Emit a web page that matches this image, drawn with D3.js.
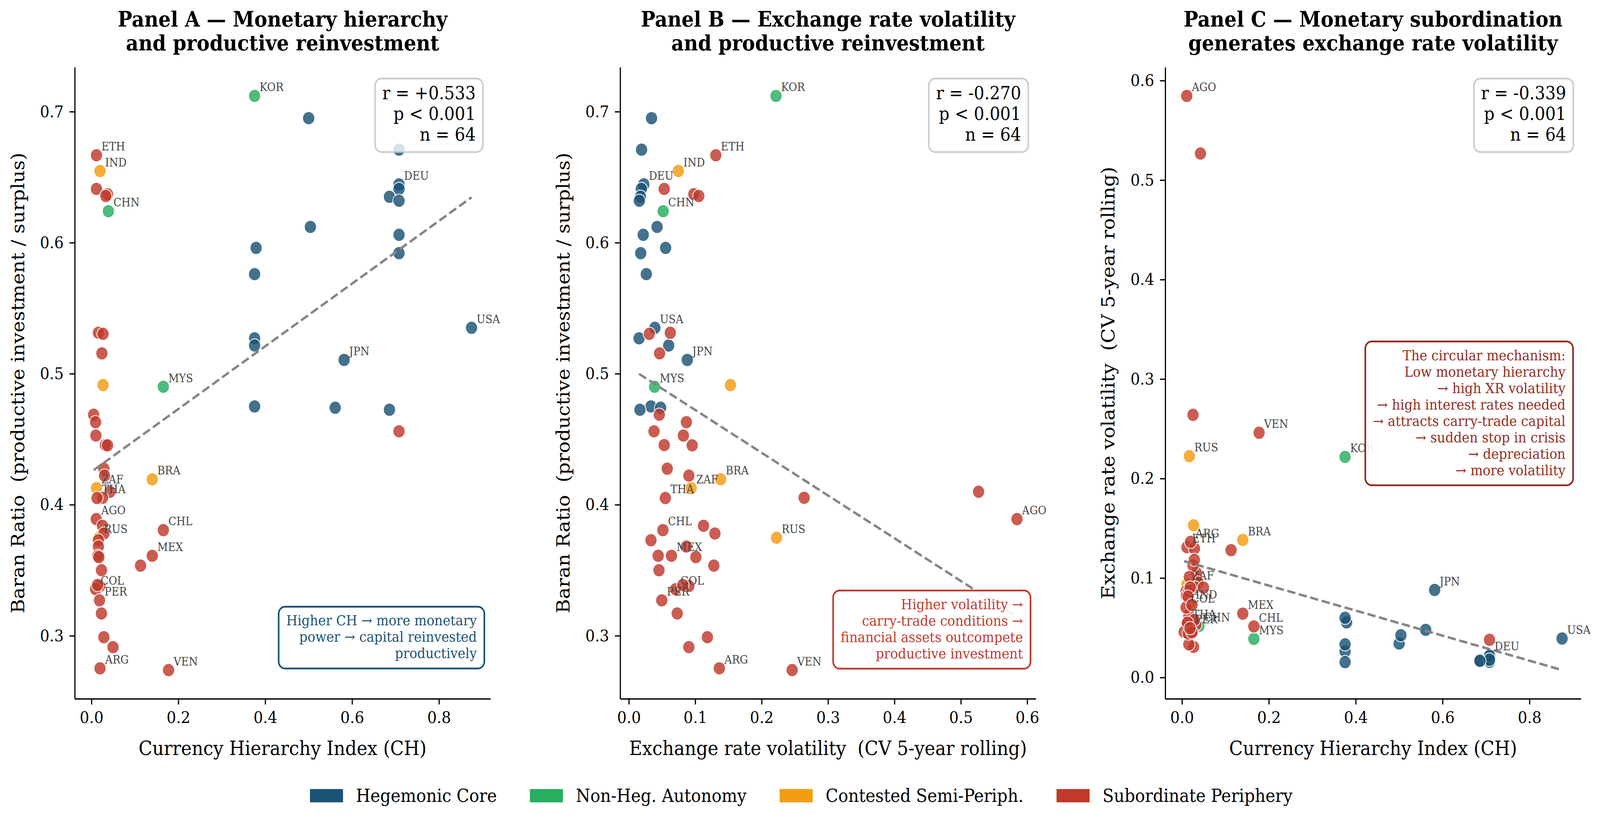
<!DOCTYPE html>
<html><head><meta charset="utf-8">
<script src="https://cdn.jsdelivr.net/npm/d3@7/dist/d3.min.js"></script>
<style>html,body{margin:0;padding:0;background:#fff;overflow:hidden} svg{display:block;width:100vw;height:100vh} text{font-family:"DejaVu Serif",serif}</style>
</head><body><svg id="c" viewBox="0 0 4453 2111" preserveAspectRatio="none"></svg>
<script>
// ---------------- DATA ----------------
const codes = [
 "", "", "DEU", "", "", "", "", "", "", "", "", "", "", "JPN", "USA", "", "", "",
 "KOR", "CHN", "MYS",
 "IND", "", "ZAF", "RUS", "BRA",
 "ETH", "", "", "", "", "", "", "", "", "", "", "", "", "", "", "", "", "THA", "AGO", "", "", "", "", "", "", "", "CHL", "MEX", "", "", "COL", "", "PER", "", "", "", "ARG", "VEN"
];
const groupIdx = [
 0,0,0,0,0,0,0,0,0,0,0,0,0,0,0,0,0,0,
 1,1,1,
 2,2,2,2,2,
 3,3,3,3,3,3,3,3,3,3,3,3,3,3,3,3,3,3,3,3,3,3,3,3,3,3,3,3,3,3,3,3,3,3,3,3,3,3
];
const chIndex = [
 0.500, 0.708, 0.708, 0.708, 0.686, 0.708, 0.504, 0.708, 0.379, 0.708, 0.3755, 0.3755, 0.3755, 0.5816, 0.875, 0.3755, 0.561, 0.686,
 0.3755, 0.039, 0.1655,
 0.0197, 0.0267, 0.0115, 0.017, 0.140,
 0.0115, 0.0115, 0.037, 0.033, 0.016, 0.0267, 0.024, 0.708, 0.005, 0.0095, 0.0102, 0.032, 0.037, 0.0286, 0.030, 0.0426, 0.0255, 0.0127, 0.011, 0.0255, 0.0287, 0.0159, 0.0159, 0.0146, 0.017, 0.023, 0.1655, 0.140, 0.113, 0.019, 0.0095, 0.014, 0.0185, 0.023, 0.0286, 0.0496, 0.0197, 0.1775
];
const baranRatio = [
 0.695, 0.671, 0.6445, 0.641, 0.635, 0.632, 0.612, 0.606, 0.596, 0.592, 0.576, 0.527, 0.5215, 0.5105, 0.535, 0.475, 0.474, 0.4725,
 0.712, 0.624, 0.490,
 0.6547, 0.4913, 0.4127, 0.3748, 0.4194,
 0.6667, 0.641, 0.637, 0.6356, 0.5312, 0.5304, 0.5155, 0.456, 0.4687, 0.463, 0.4528, 0.4455, 0.4453, 0.4275, 0.4222, 0.4099, 0.4053, 0.4051, 0.389, 0.3839, 0.378, 0.3729, 0.3681, 0.361, 0.360, 0.350, 0.3806, 0.361, 0.3535, 0.338, 0.3355, 0.3387, 0.327, 0.317, 0.2989, 0.2913, 0.2751, 0.2738
];
const xrVol = [
 0.0342, 0.0192, 0.0225, 0.0188, 0.0175, 0.0158, 0.0425, 0.0217, 0.0554, 0.0179, 0.0263, 0.0154, 0.060, 0.088, 0.0392, 0.0333, 0.0479, 0.0167,
 0.2217, 0.0517, 0.0388,
 0.0746, 0.153, 0.0938, 0.2225, 0.1383,
 0.131, 0.0533, 0.0979, 0.1054, 0.0625, 0.0308, 0.0463, 0.0379, 0.0458, 0.0867, 0.0821, 0.0533, 0.0954, 0.0579, 0.0904, 0.5267, 0.264, 0.055, 0.5846, 0.1125, 0.1296, 0.0333, 0.0867, 0.0442, 0.101, 0.0454, 0.0513, 0.0642, 0.128, 0.0904, 0.0704, 0.0813, 0.0496, 0.0729, 0.1183, 0.0904, 0.1363, 0.246
];
const groupNames = ["Hegemonic Core", "Non-Heg. Autonomy", "Contested Semi-Periph.", "Subordinate Periphery"];
const groupColors = ["#1a5276", "#27ae60", "#f39c12", "#c0392b"];
const ticksCH = [0, 0.2, 0.4, 0.6, 0.8];
const ticksVol = [0, 0.1, 0.2, 0.3, 0.4, 0.5, 0.6];
const ticksBaran = [0.3, 0.4, 0.5, 0.6, 0.7];
const panelTitles = [
 ["Panel A — Monetary hierarchy", "and productive reinvestment"],
 ["Panel B — Exchange rate volatility", "and productive reinvestment"],
 ["Panel C — Monetary subordination", "generates exchange rate volatility"]
];
const statsLines = [
 ["r = +0.533", "p < 0.001", "n = 64"],
 ["r = -0.270", "p < 0.001", "n = 64"],
 ["r = -0.339", "p < 0.001", "n = 64"]
];
const noteLines = [
 ["Higher CH → more monetary", "power → capital reinvested", "productively"],
 ["Higher volatility →", "carry-trade conditions →", "financial assets outcompete", "productive investment"],
 ["The circular mechanism:", "Low monetary hierarchy", "→ high XR volatility", "→ high interest rates needed", "→ attracts carry-trade capital", "→ sudden stop in crisis", "→ depreciation", "→ more volatility"]
];
const labelCH = "Currency Hierarchy Index (CH)";
const labelVol = "Exchange rate volatility  (CV 5-year rolling)";
const labelBaran = "Baran Ratio  (productive investment / surplus)";

// ---------------- LAYOUT ----------------
const svg = d3.select("#c");
svg.append("rect").attr("width", 4453).attr("height", 2111).attr("fill", "#fff");
const AX_TOP = 172, AX_BOTTOM = 1788, AX_W = 1157;
const panelLefts = [208, 1726, 3243];
const noteStyle = [
 {color: "#1a5276", right: 38, base: (t, b) => b - 187.5},
 {color: "#c0392b", right: 36, base: (t, b) => b - 229},
 {color: "#922b21", right: 43, base: (t, b) => t + 749.7}
];
const panels = [
 {xs: chIndex, ys: baranRatio, xt: ticksCH, yt: ticksBaran, xl: labelCH, yl: labelBaran},
 {xs: xrVol, ys: baranRatio, xt: ticksVol, yt: ticksBaran, xl: labelVol, yl: labelBaran},
 {xs: chIndex, ys: xrVol, xt: ticksCH, yt: ticksVol, xl: labelCH, yl: labelVol}
];

function padExtent(v) { const [a, b] = d3.extent(v); const m = (b - a) * 0.05; return [a - m, b + m]; }
function linreg(xs, ys) {
  const mx = d3.mean(xs), my = d3.mean(ys);
  let sxy = 0, sxx = 0;
  xs.forEach((x, i) => { sxy += (x - mx) * (ys[i] - my); sxx += (x - mx) * (x - mx); });
  const b = sxy / sxx; return {a: my - b * mx, b};
}
const fmt = d3.format(".1f");
const idx = d3.range(codes.length);

panels.forEach((p, pi) => {
  const L = panelLefts[pi], R = L + AX_W;
  const reg = linreg(p.xs, p.ys);
  const [x0, x1] = d3.extent(p.xs);
  const lineX = [x0, x1], lineY = lineX.map(v => reg.a + reg.b * v);
  const x = d3.scaleLinear().domain(padExtent(p.xs.concat(lineX))).range([L, R]);
  const y = d3.scaleLinear().domain(padExtent(p.ys.concat(lineY))).range([AX_BOTTOM, AX_TOP]);
  const g = svg.append("g");

  // points
  g.append("g").selectAll("circle").data(idx).join("circle")
    .attr("cx", i => x(p.xs[i])).attr("cy", i => y(p.ys[i])).attr("r", 17)
    .attr("fill", i => groupColors[groupIdx[i]]).attr("stroke", "#fff").attr("stroke-width", 2.5)
    .attr("opacity", 0.82);

  // regression line
  g.append("path").attr("d", d3.line().x((d, k) => x(lineX[k])).y(d => y(d))(lineY))
    .attr("fill", "none").attr("stroke", "#858585").attr("stroke-width", 6.2)
    .attr("stroke-dasharray", "23,10");

  // country labels
  g.append("g").selectAll("text").data(idx.filter(i => codes[i])).join("text")
    .attr("x", i => x(p.xs[i]) + 14).attr("y", i => y(p.ys[i]) - 12)
    .attr("font-size", 29).attr("fill", "#444").text(i => codes[i]);

  // axes
  const ax = g.append("g").attr("transform", `translate(0,${AX_BOTTOM})`)
    .call(d3.axisBottom(x).tickValues(p.xt).tickFormat(fmt).tickSize(14.6).tickSizeOuter(0).tickPadding(18));
  const ay = g.append("g").attr("transform", `translate(${L},0)`)
    .call(d3.axisLeft(y).tickValues(p.yt).tickFormat(fmt).tickSize(14.6).tickSizeOuter(0).tickPadding(16));
  [ax, ay].forEach(a => {
    a.attr("font-family", "DejaVu Serif").attr("font-size", 41.7);
    a.select(".domain").attr("stroke", "#000").attr("stroke-width", 3.3);
    a.selectAll(".tick line").attr("stroke", "#000").attr("stroke-width", 3.3);
    a.selectAll(".tick text").attr("fill", "#000");
  });

  // titles
  const t = g.append("text").attr("x", (L + R) / 2).attr("text-anchor", "middle")
    .attr("font-size", 54).attr("font-weight", "bold").attr("fill", "#000");
  panelTitles[pi].forEach((s, k) => t.append("tspan").attr("x", (L + R) / 2).attr("y", 68 + k * 61).text(s));

  // axis labels
  g.append("text").attr("x", (L + R) / 2).attr("y", 1932).attr("text-anchor", "middle")
    .attr("font-size", 50).style("white-space", "pre").text(p.xl);
  g.append("text").attr("transform", `translate(${L - 141},${(AX_TOP + AX_BOTTOM) / 2}) rotate(-90)`)
    .attr("text-anchor", "middle").attr("font-size", 50).style("white-space", "pre").text(p.yl);

  // stats box
  const sg = g.append("g");
  const sRight = R - 41, sBase = AX_TOP + 82, sLH = 53;
  const sRect = sg.append("rect");
  const sText = sg.append("text").attr("text-anchor", "end").attr("font-size", 46).attr("fill", "#000");
  statsLines[pi].forEach((s, k) => sText.append("tspan").attr("x", sRight).attr("y", sBase + k * sLH).text(s));
  let sw = 0; sText.selectAll("tspan").each(function () { sw = Math.max(sw, this.getComputedTextLength()); });
  const sTop = sBase - 53, sBot = sBase + (statsLines[pi].length - 1) * sLH + 29;
  sRect.attr("x", sRight - sw - 20).attr("y", sTop).attr("width", sw + 40).attr("height", sBot - sTop)
    .attr("rx", 18).attr("fill", "#fff").attr("fill-opacity", 0.8)
    .attr("stroke", "#bfc5ca").attr("stroke-width", 4.5).attr("stroke-opacity", 0.85);

  // note box
  const ns = noteStyle[pi];
  const ng = g.append("g");
  const nRight = R - ns.right, nBase = ns.base(AX_TOP, AX_BOTTOM), nLH = 42;
  const nRect = ng.append("rect");
  const nText = ng.append("text").attr("text-anchor", "end").attr("font-size", 36).attr("fill", ns.color);
  noteLines[pi].forEach((s, k) => nText.append("tspan").attr("x", nRight).attr("y", nBase + k * nLH).text(s));
  let nw = 0; nText.selectAll("tspan").each(function () { nw = Math.max(nw, this.getComputedTextLength()); });
  const nTop = nBase - 48, nBot = nBase + (noteLines[pi].length - 1) * nLH + 26;
  nRect.attr("x", nRight - nw - 21).attr("y", nTop).attr("width", nw + 42).attr("height", nBot - nTop)
    .attr("rx", 18).attr("fill", "#fff").attr("fill-opacity", 0.9)
    .attr("stroke", ns.color).attr("stroke-width", 4.5);
});

// ---------------- LEGEND ----------------
const lg = svg.append("g");
const items = groupNames.map((name, k) => {
  const it = lg.append("g");
  it.append("rect").attr("width", 92).attr("height", 34).attr("y", 2019).attr("fill", groupColors[k]);
  const tx = it.append("text").attr("y", 2052).attr("font-size", 46).attr("fill", "#000").text(name);
  return {it, tx, w: tx.node().getComputedTextLength()};
});
const total = d3.sum(items, d => 92 + 36 + d.w) + 3 * 92;
let cx = 2230 - total / 2;
items.forEach(d => {
  d.it.select("rect").attr("x", cx);
  d.tx.attr("x", cx + 128);
  cx += 128 + d.w + 92;
});
</script></body></html>
